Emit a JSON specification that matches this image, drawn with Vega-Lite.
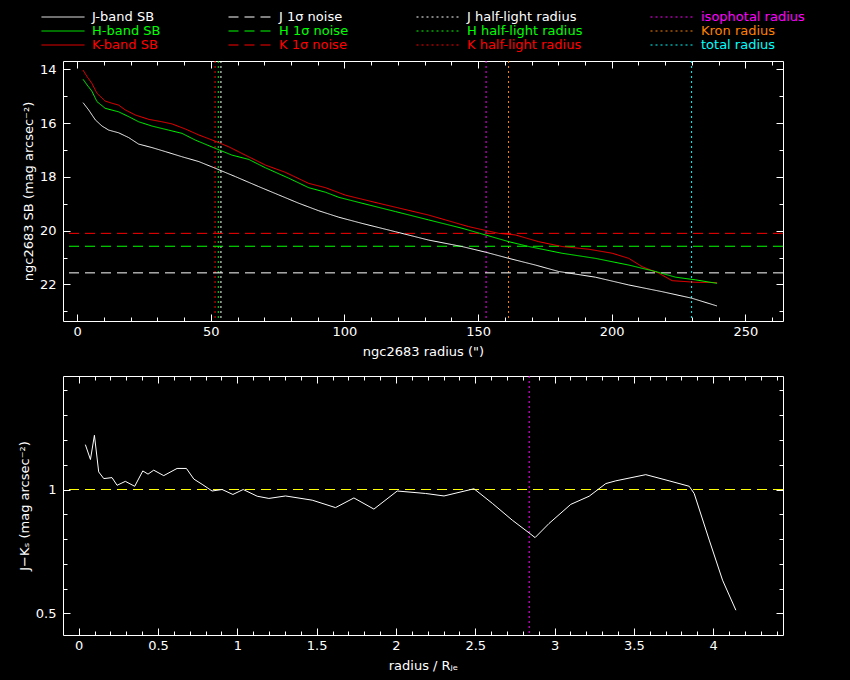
{
  "$schema": "https://vega.github.io/schema/vega-lite/v6.json",
  "background": "black",
  "padding": {"left": 17, "top": 9, "right": 53, "bottom": 8},
  "datasets": {
    "sb": [
      {"series": "K-band SB", "r": 2.2, "sb": 14.03}, {"series": "K-band SB", "r": 3.7, "sb": 14.27},
      {"series": "K-band SB", "r": 5.5, "sb": 14.52}, {"series": "K-band SB", "r": 7.4, "sb": 14.89},
      {"series": "K-band SB", "r": 10.5, "sb": 15.18}, {"series": "K-band SB", "r": 13.0, "sb": 15.26},
      {"series": "K-band SB", "r": 15.5, "sb": 15.33}, {"series": "K-band SB", "r": 18.0, "sb": 15.51},
      {"series": "K-band SB", "r": 21.8, "sb": 15.70}, {"series": "K-band SB", "r": 26.8, "sb": 15.86},
      {"series": "K-band SB", "r": 31.7, "sb": 15.95}, {"series": "K-band SB", "r": 35.5, "sb": 16.03},
      {"series": "K-band SB", "r": 40.5, "sb": 16.22}, {"series": "K-band SB", "r": 45.5, "sb": 16.44},
      {"series": "K-band SB", "r": 51.6, "sb": 16.67}, {"series": "K-band SB", "r": 56.7, "sb": 16.88},
      {"series": "K-band SB", "r": 62.9, "sb": 17.19}, {"series": "K-band SB", "r": 70.4, "sb": 17.56},
      {"series": "K-band SB", "r": 77.9, "sb": 17.83}, {"series": "K-band SB", "r": 86.6, "sb": 18.24},
      {"series": "K-band SB", "r": 92.9, "sb": 18.40}, {"series": "K-band SB", "r": 100.4, "sb": 18.68},
      {"series": "K-band SB", "r": 112.8, "sb": 18.98}, {"series": "K-band SB", "r": 131.5, "sb": 19.42},
      {"series": "K-band SB", "r": 146.5, "sb": 19.85}, {"series": "K-band SB", "r": 157.7, "sb": 20.10},
      {"series": "K-band SB", "r": 164.0, "sb": 20.16}, {"series": "K-band SB", "r": 172.7, "sb": 20.41},
      {"series": "K-band SB", "r": 181.4, "sb": 20.59}, {"series": "K-band SB", "r": 191.4, "sb": 20.69},
      {"series": "K-band SB", "r": 200.2, "sb": 20.84}, {"series": "K-band SB", "r": 206.4, "sb": 21.03},
      {"series": "K-band SB", "r": 211.4, "sb": 21.34}, {"series": "K-band SB", "r": 217.6, "sb": 21.58},
      {"series": "K-band SB", "r": 222.6, "sb": 21.86}, {"series": "K-band SB", "r": 231.4, "sb": 21.92},
      {"series": "K-band SB", "r": 239.4, "sb": 21.93},
      {"series": "H-band SB", "r": 2.2, "sb": 14.37}, {"series": "H-band SB", "r": 3.7, "sb": 14.58},
      {"series": "H-band SB", "r": 5.5, "sb": 14.81}, {"series": "H-band SB", "r": 7.4, "sb": 15.20},
      {"series": "H-band SB", "r": 10.5, "sb": 15.45}, {"series": "H-band SB", "r": 15.5, "sb": 15.58},
      {"series": "H-band SB", "r": 19.3, "sb": 15.76}, {"series": "H-band SB", "r": 23.0, "sb": 15.95},
      {"series": "H-band SB", "r": 28.0, "sb": 16.11}, {"series": "H-band SB", "r": 34.2, "sb": 16.26},
      {"series": "H-band SB", "r": 39.2, "sb": 16.38}, {"series": "H-band SB", "r": 44.2, "sb": 16.63},
      {"series": "H-band SB", "r": 51.7, "sb": 16.94}, {"series": "H-band SB", "r": 57.9, "sb": 17.19},
      {"series": "H-band SB", "r": 64.2, "sb": 17.35}, {"series": "H-band SB", "r": 70.4, "sb": 17.66},
      {"series": "H-band SB", "r": 79.2, "sb": 18.05}, {"series": "H-band SB", "r": 86.6, "sb": 18.40},
      {"series": "H-band SB", "r": 92.9, "sb": 18.57}, {"series": "H-band SB", "r": 97.9, "sb": 18.76},
      {"series": "H-band SB", "r": 106.6, "sb": 18.98}, {"series": "H-band SB", "r": 119.1, "sb": 19.29},
      {"series": "H-band SB", "r": 131.5, "sb": 19.60}, {"series": "H-band SB", "r": 144.0, "sb": 19.91},
      {"series": "H-band SB", "r": 152.8, "sb": 20.16}, {"series": "H-band SB", "r": 161.5, "sb": 20.41},
      {"series": "H-band SB", "r": 169.0, "sb": 20.59}, {"series": "H-band SB", "r": 181.4, "sb": 20.84},
      {"series": "H-band SB", "r": 193.9, "sb": 21.03}, {"series": "H-band SB", "r": 206.4, "sb": 21.28},
      {"series": "H-band SB", "r": 216.4, "sb": 21.52}, {"series": "H-band SB", "r": 223.9, "sb": 21.73},
      {"series": "H-band SB", "r": 231.4, "sb": 21.83}, {"series": "H-band SB", "r": 239.4, "sb": 21.96},
      {"series": "J-band SB", "r": 2.2, "sb": 15.24}, {"series": "J-band SB", "r": 4.3, "sb": 15.51},
      {"series": "J-band SB", "r": 6.8, "sb": 15.88}, {"series": "J-band SB", "r": 9.3, "sb": 16.11},
      {"series": "J-band SB", "r": 11.8, "sb": 16.26}, {"series": "J-band SB", "r": 15.5, "sb": 16.36},
      {"series": "J-band SB", "r": 19.3, "sb": 16.54}, {"series": "J-band SB", "r": 23.0, "sb": 16.78},
      {"series": "J-band SB", "r": 28.0, "sb": 16.91}, {"series": "J-band SB", "r": 33.0, "sb": 17.06},
      {"series": "J-band SB", "r": 39.2, "sb": 17.25}, {"series": "J-band SB", "r": 45.5, "sb": 17.43},
      {"series": "J-band SB", "r": 51.7, "sb": 17.68}, {"series": "J-band SB", "r": 59.2, "sb": 17.99},
      {"series": "J-band SB", "r": 67.9, "sb": 18.36}, {"series": "J-band SB", "r": 75.4, "sb": 18.67},
      {"series": "J-band SB", "r": 82.9, "sb": 18.98}, {"series": "J-band SB", "r": 90.4, "sb": 19.26},
      {"series": "J-band SB", "r": 97.9, "sb": 19.50}, {"series": "J-band SB", "r": 106.6, "sb": 19.73},
      {"series": "J-band SB", "r": 119.1, "sb": 20.04}, {"series": "J-band SB", "r": 131.5, "sb": 20.35},
      {"series": "J-band SB", "r": 144.0, "sb": 20.59}, {"series": "J-band SB", "r": 152.8, "sb": 20.80},
      {"series": "J-band SB", "r": 161.5, "sb": 21.03}, {"series": "J-band SB", "r": 171.5, "sb": 21.28},
      {"series": "J-band SB", "r": 180.2, "sb": 21.52}, {"series": "J-band SB", "r": 193.9, "sb": 21.73},
      {"series": "J-band SB", "r": 206.4, "sb": 22.02}, {"series": "J-band SB", "r": 218.9, "sb": 22.27},
      {"series": "J-band SB", "r": 229.9, "sb": 22.51}, {"series": "J-band SB", "r": 239.4, "sb": 22.80}
    ],
    "noise": [
      {"series": "J 1σ noise", "sb": 21.57},
      {"series": "H 1σ noise", "sb": 20.58},
      {"series": "K 1σ noise", "sb": 20.10}
    ],
    "radii": [
      {"series": "J half-light radius", "r": 53.8},
      {"series": "H half-light radius", "r": 52.8},
      {"series": "K half-light radius", "r": 51.6},
      {"series": "isophotal radius", "r": 153.0},
      {"series": "Kron radius", "r": 161.4},
      {"series": "total radius", "r": 229.9}
    ],
    "jk": [
      {"x": 0.042, "jk": 1.181}, {"x": 0.074, "jk": 1.121}, {"x": 0.099, "jk": 1.219},
      {"x": 0.126, "jk": 1.071}, {"x": 0.158, "jk": 1.044}, {"x": 0.21, "jk": 1.048},
      {"x": 0.242, "jk": 1.017}, {"x": 0.294, "jk": 1.033}, {"x": 0.353, "jk": 1.013},
      {"x": 0.404, "jk": 1.075}, {"x": 0.437, "jk": 1.062}, {"x": 0.473, "jk": 1.078},
      {"x": 0.536, "jk": 1.056}, {"x": 0.62, "jk": 1.085}, {"x": 0.679, "jk": 1.085},
      {"x": 0.726, "jk": 1.042}, {"x": 0.778, "jk": 1.021}, {"x": 0.841, "jk": 0.994},
      {"x": 0.904, "jk": 1.0}, {"x": 0.972, "jk": 0.98}, {"x": 1.037, "jk": 1.0},
      {"x": 1.125, "jk": 0.973}, {"x": 1.199, "jk": 0.964}, {"x": 1.304, "jk": 0.974},
      {"x": 1.472, "jk": 0.957}, {"x": 1.619, "jk": 0.927}, {"x": 1.735, "jk": 0.966},
      {"x": 1.861, "jk": 0.921}, {"x": 2.008, "jk": 0.994}, {"x": 2.187, "jk": 0.984},
      {"x": 2.303, "jk": 0.974}, {"x": 2.492, "jk": 1.003}, {"x": 2.608, "jk": 0.944},
      {"x": 2.734, "jk": 0.876}, {"x": 2.839, "jk": 0.825}, {"x": 2.877, "jk": 0.806},
      {"x": 2.965, "jk": 0.863}, {"x": 3.102, "jk": 0.94}, {"x": 3.218, "jk": 0.973},
      {"x": 3.323, "jk": 1.024}, {"x": 3.386, "jk": 1.035}, {"x": 3.575, "jk": 1.06},
      {"x": 3.722, "jk": 1.035}, {"x": 3.849, "jk": 1.013}, {"x": 3.88, "jk": 0.984},
      {"x": 3.975, "jk": 0.796}, {"x": 4.059, "jk": 0.634}, {"x": 4.143, "jk": 0.513}
    ],
    "jkref": [{"jk": 1.0}],
    "jkiso": [{"x": 2.84}]
  },
  "vconcat": [
    {
      "width": 720,
      "height": 260,
      "layer": [
        {
          "data": {"name": "radii"},
          "mark": {"type": "rule", "strokeWidth": 1},
          "encoding": {
            "x": {
              "field": "r", "type": "quantitative",
              "scale": {"domain": [-5.3, 264.1], "nice": false, "zero": false},
              "axis": {
                "orient": "top", "labels": false, "title": null,
                "values": [0, 10, 20, 30, 40, 50, 60, 70, 80, 90, 100, 110, 120, 130, 140, 150, 160, 170, 180, 190, 200, 210, 220, 230, 240, 250, 260],
                "tickSize": {"condition": {"test": "datum.value % 50 === 0", "value": -7}, "value": -4}
              }
            },
            "color": {"field": "series", "type": "nominal"},
            "strokeDash": {"field": "series", "type": "nominal"}
          }
        },
        {
          "data": {"name": "noise"},
          "mark": {"type": "rule", "strokeWidth": 1},
          "encoding": {
            "y": {
              "field": "sb", "type": "quantitative",
              "scale": {"domain": [13.69, 23.36], "reverse": true, "nice": false, "zero": false},
              "axis": {
                "orient": "right", "labels": false, "title": null,
                "values": [14, 15, 16, 17, 18, 19, 20, 21, 22, 23],
                "tickSize": {"condition": {"test": "datum.value % 2 === 0", "value": -7}, "value": -4}
              }
            },
            "color": {"field": "series", "type": "nominal"},
            "strokeDash": {"field": "series", "type": "nominal"}
          }
        },
        {
          "data": {"name": "sb"},
          "mark": {"type": "line", "strokeWidth": 1},
          "encoding": {
            "x": {
              "field": "r", "type": "quantitative",
              "axis": {
                "orient": "bottom", "title": "ngc2683 radius (\")",
                "values": [0, 10, 20, 30, 40, 50, 60, 70, 80, 90, 100, 110, 120, 130, 140, 150, 160, 170, 180, 190, 200, 210, 220, 230, 240, 250, 260],
                "labelExpr": "datum.value % 50 === 0 ? datum.label : ''",
                "tickSize": {"condition": {"test": "datum.value % 50 === 0", "value": -7}, "value": -4},
                "labelPadding": 11, "titlePadding": 4
              }
            },
            "y": {
              "field": "sb", "type": "quantitative",
              "axis": {
                "orient": "left", "title": "ngc2683 SB (mag arcsec⁻²)",
                "values": [14, 15, 16, 17, 18, 19, 20, 21, 22, 23],
                "labelExpr": "datum.value % 2 === 0 ? datum.label : ''",
                "tickSize": {"condition": {"test": "datum.value % 2 === 0", "value": -7}, "value": -4},
                "labelPadding": 14, "titlePadding": 4
              }
            },
            "color": {
              "field": "series", "type": "nominal",
              "scale": {
                "domain": ["J-band SB", "J 1σ noise", "J half-light radius", "isophotal radius", "H-band SB", "H 1σ noise", "H half-light radius", "Kron radius", "K-band SB", "K 1σ noise", "K half-light radius", "total radius"],
                "range": ["#ffffff", "#ffffff", "#ffffff", "#ff00ff", "#00ff00", "#00ff00", "#00ff00", "#ff8000", "#ff0000", "#ff0000", "#ff0000", "#00ffff"]
              },
              "legend": {
                "encode": {
                  "labels": {
                    "update": {
                      "fill": [
                        {"test": "datum.value === 'isophotal radius'", "value": "#ff00ff"},
                        {"test": "datum.value === 'Kron radius'", "value": "#ff8000"},
                        {"test": "datum.value === 'total radius'", "value": "#00ffff"},
                        {"test": "datum.value[0] === 'H'", "value": "#00ff00"},
                        {"test": "datum.value[0] === 'K'", "value": "#ff0000"},
                        {"value": "#ffffff"}
                      ]
                    }
                  }
                }
              }
            },
            "strokeDash": {
              "field": "series", "type": "nominal",
              "scale": {
                "domain": ["J-band SB", "J 1σ noise", "J half-light radius", "isophotal radius", "H-band SB", "H 1σ noise", "H half-light radius", "Kron radius", "K-band SB", "K 1σ noise", "K half-light radius", "total radius"],
                "range": [[1, 0], [10, 6], [2, 3], [2, 3], [1, 0], [10, 6], [2, 3], [2, 3], [1, 0], [10, 6], [2, 3], [2, 3]]
              }
            }
          }
        }
      ],
      "resolve": {"axis": {"x": "independent", "y": "independent"}}
    },
    {
      "width": 720,
      "height": 259,
      "layer": [
        {
          "data": {"name": "jkiso"},
          "mark": {"type": "rule", "strokeWidth": 1, "color": "#ff00ff", "strokeDash": [2, 3]},
          "encoding": {
            "x": {
              "field": "x", "type": "quantitative",
              "scale": {"domain": [-0.099, 4.44], "nice": false, "zero": false},
              "axis": {
                "orient": "top", "labels": false, "title": null,
                "values": [0, 0.1, 0.2, 0.3, 0.4, 0.5, 0.6, 0.7, 0.8, 0.9, 1, 1.1, 1.2, 1.3, 1.4, 1.5, 1.6, 1.7, 1.8, 1.9, 2, 2.1, 2.2, 2.3, 2.4, 2.5, 2.6, 2.7, 2.8, 2.9, 3, 3.1, 3.2, 3.3, 3.4, 3.5, 3.6, 3.7, 3.8, 3.9, 4, 4.1, 4.2, 4.3, 4.4],
                "tickSize": {"condition": {"test": "abs(datum.value * 2 - round(datum.value * 2)) < 0.001", "value": -7}, "value": -4}
              }
            }
          }
        },
        {
          "data": {"name": "jkref"},
          "mark": {"type": "rule", "strokeWidth": 1, "color": "#ffff00", "strokeDash": [10, 6]},
          "encoding": {
            "y": {
              "field": "jk", "type": "quantitative",
              "scale": {"domain": [0.413, 1.458], "nice": false, "zero": false},
              "axis": {
                "orient": "right", "labels": false, "title": null,
                "values": [0.5, 0.6, 0.7, 0.8, 0.9, 1, 1.1, 1.2, 1.3, 1.4],
                "tickSize": {"condition": {"test": "abs(datum.value * 2 - round(datum.value * 2)) < 0.001", "value": -7}, "value": -4}
              }
            }
          }
        },
        {
          "data": {"name": "jk"},
          "mark": {"type": "line", "strokeWidth": 1, "color": "#ffffff"},
          "encoding": {
            "x": {
              "field": "x", "type": "quantitative",
              "axis": {
                "orient": "bottom", "title": "radius / Rⱼₑ",
                "values": [0, 0.1, 0.2, 0.3, 0.4, 0.5, 0.6, 0.7, 0.8, 0.9, 1, 1.1, 1.2, 1.3, 1.4, 1.5, 1.6, 1.7, 1.8, 1.9, 2, 2.1, 2.2, 2.3, 2.4, 2.5, 2.6, 2.7, 2.8, 2.9, 3, 3.1, 3.2, 3.3, 3.4, 3.5, 3.6, 3.7, 3.8, 3.9, 4, 4.1, 4.2, 4.3, 4.4],
                "labelExpr": "abs(datum.value * 2 - round(datum.value * 2)) < 0.001 ? '' + round(datum.value * 2) / 2 : ''",
                "tickSize": {"condition": {"test": "abs(datum.value * 2 - round(datum.value * 2)) < 0.001", "value": -7}, "value": -4},
                "labelPadding": 11, "titlePadding": 4
              }
            },
            "y": {
              "field": "jk", "type": "quantitative",
              "axis": {
                "orient": "left", "title": "J−Kₛ (mag arcsec⁻²)",
                "values": [0.5, 0.6, 0.7, 0.8, 0.9, 1, 1.1, 1.2, 1.3, 1.4],
                "labelExpr": "abs(datum.value * 2 - round(datum.value * 2)) < 0.001 ? '' + round(datum.value * 2) / 2 : ''",
                "tickSize": {"condition": {"test": "abs(datum.value * 2 - round(datum.value * 2)) < 0.001", "value": -7}, "value": -4},
                "labelPadding": 14, "titlePadding": 4
              }
            }
          }
        }
      ],
      "resolve": {"axis": {"x": "independent", "y": "independent"}}
    }
  ],
  "spacing": 55,
  "bounds": "flush",
  "resolve": {
    "scale": {"x": "independent", "y": "independent", "color": "independent", "strokeDash": "independent"}
  },
  "config": {
    "view": {"stroke": "#ffffff", "strokeWidth": 1},
    "font": "DejaVu Sans",
    "axis": {
      "domain": false, "grid": false,
      "tickColor": "#ffffff", "tickWidth": 1,
      "labelColor": "#ffffff", "labelFontSize": 13, "labelFont": "DejaVu Sans",
      "titleColor": "#ffffff", "titleFontSize": 13, "titleFontWeight": "normal", "titleFont": "DejaVu Sans",
      "labelFlush": false, "labelOverlap": false
    },
    "legend": {
      "orient": "none", "legendX": -22, "legendY": -51,
      "columns": 4, "direction": "horizontal", "title": null,
      "symbolType": "stroke", "symbolSize": 1849, "symbolStrokeWidth": 1,
      "clipHeight": 14, "rowPadding": 0, "columnPadding": 67,
      "labelFontSize": 13, "labelFont": "DejaVu Sans", "labelOffset": 7, "labelColor": "#ffffff"
    }
  }
}
